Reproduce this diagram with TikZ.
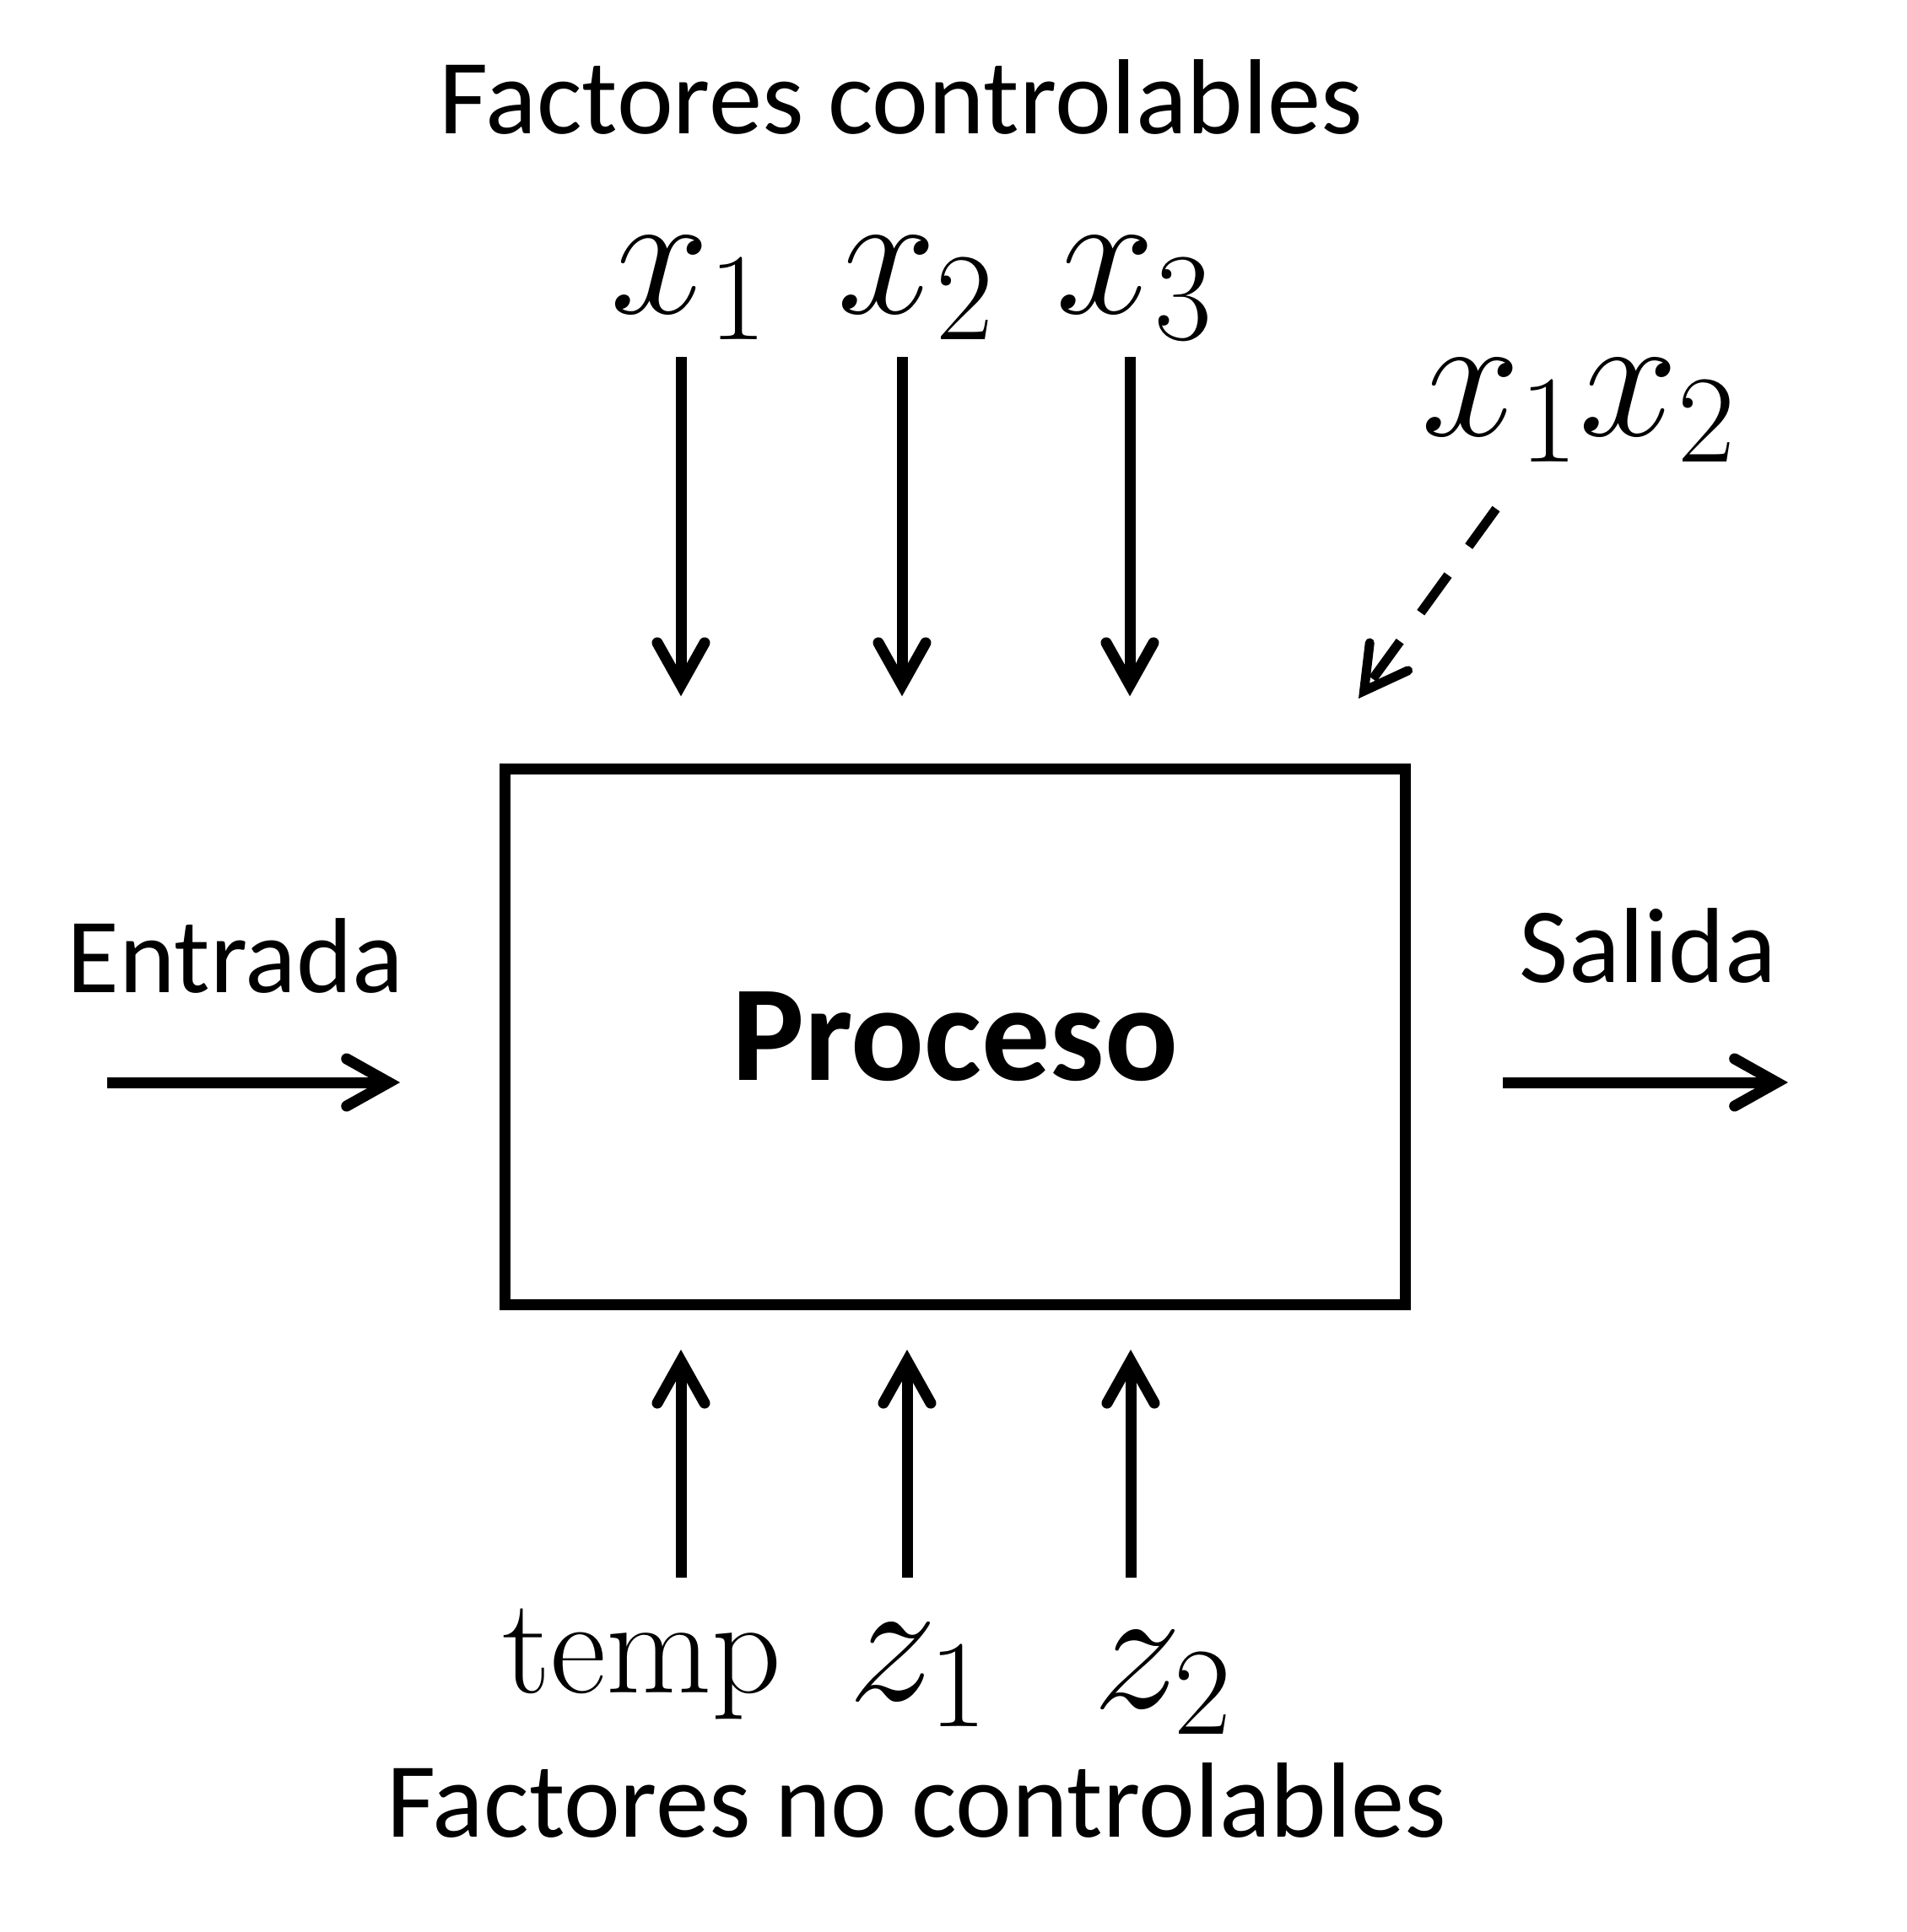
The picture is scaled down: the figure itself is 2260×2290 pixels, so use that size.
\documentclass[tikz,border=0pt]{standalone}
\usepackage{fix-cm}
\usepackage{amsmath}
\usepackage[no-math]{fontspec}
\setmainfont{Carlito}
\usepackage{tikz}
\usetikzlibrary{arrows.meta}
\usetikzlibrary{calc}

\tikzset{
	etiqueta/.style={font=\fontsize{36}{40}\selectfont, anchor=base, inner sep=0pt},
	simbolo/.style={font=\fontsize{60}{66}\selectfont, anchor=base, inner sep=0pt},
	flecha/.style={line width=0.13cm,
		-{Straight Barb[length=0.5cm,width=0.56cm,line cap=round,line join=miter]}},
	discont/.style={line width=0.11cm, dash pattern=on 0.55cm off 0.42cm},
	caja/.style={draw, line width=0.13cm, minimum width=10.66cm, minimum height=6.34cm,
		font=\fontsize{46}{50}\selectfont\bfseries},
}

\begin{document}
\begin{tikzpicture}[x=0.01cm,y=-0.01cm]
		\useasboundingbox (0,0) rectangle (2260,2290);
		
		% Proceso (caja central)
		\node[caja] (proc) at (1132,1229) {Proceso};
		
		% Factores controlables
		\node[etiqueta] (ctrl) at (1068,158) {Factores controlables};
		\node[simbolo] (x1) at (817,371) {$x_1$};
		\node[simbolo] (x2) at (1086,371) {$x_2$};
		\node[simbolo] (x3) at (1345,371) {$x_3$};
		\node[simbolo] (x1x2) at (1871,516) {$x_1x_2$};
		
		\foreach \i/\x in {1/807,2/1069,3/1339}{
			\coordinate (cin\i) at (\x,423);
			\draw[flecha, shorten >=0.8cm] (cin\i) -- (cin\i |- proc.north);
		}
		
		% interaccion (discontinua)
		\coordinate (inter) at (1773,603);
		\coordinate (interfin) at (1610,828);
		\draw[flecha, discont] (inter) -- (interfin);
		
		% Entrada y salida
		\node[etiqueta] (ent) at (279,1176) {Entrada};
		\node[etiqueta] (sal) at (1953,1164) {Salida};
		\coordinate (cent) at (127,1283);
		\coordinate (csal) at (2119,1283);
		\draw[flecha, shorten >=1.18cm] (cent) -- (cent -| proc.west);
		\draw[flecha, shorten <=1.09cm] (csal -| proc.east) -- (csal);
		
		% Factores no controlables
		\node[simbolo, font=\fontsize{46}{50}\selectfont] (temp) at (761,2006) {$\mathrm{temp}$};
		\node[simbolo] (z1) at (1088,2015) {$z_1$};
		\node[simbolo] (z2) at (1378,2024) {$z_2$};
		\node[etiqueta] (noctrl) at (1086,2177) {Factores no controlables};
		
		\foreach \i/\x in {1/807,2/1075,3/1340}{
			\coordinate (cout\i) at (\x,1870);
			\draw[flecha, shorten >=0.47cm] (cout\i) -- (cout\i |- proc.south);
		}
	\end{tikzpicture}
\end{document}
